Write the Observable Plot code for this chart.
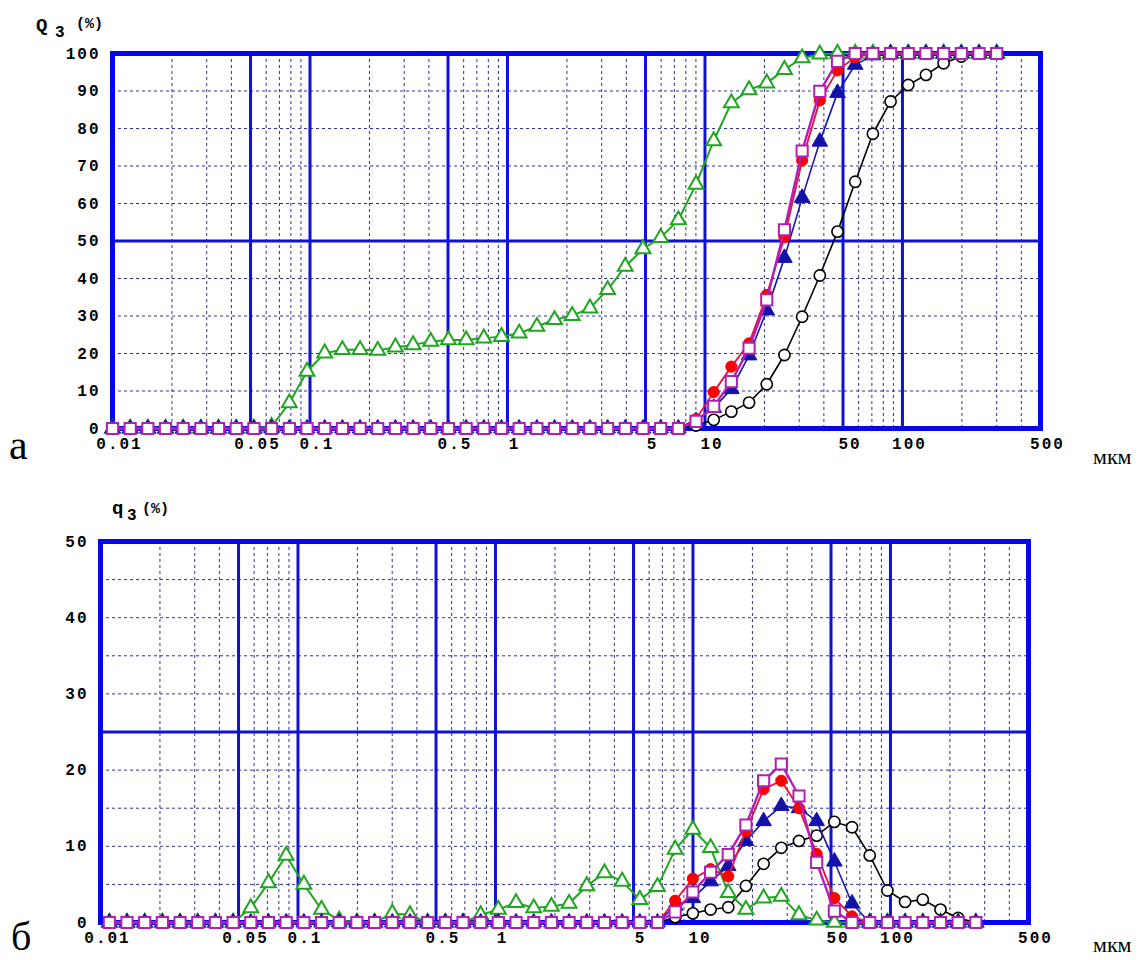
<!DOCTYPE html>
<html>
<head>
<meta charset="utf-8">
<script src="https://cdn.jsdelivr.net/npm/d3@7"></script>
<script src="https://cdn.jsdelivr.net/npm/@observablehq/plot@0.6"></script>
<style>
html, body { margin: 0; padding: 0; background: #fff; }
#wrap { position: relative; width: 1138px; height: 960px; overflow: hidden; background: #fff; }
#wrap > div.p { position: absolute; left: 0; }
#ann { position: absolute; left: 0; top: 0; pointer-events: none; }
</style>
</head>
<body>
<div id="wrap">
  <div class="p" id="pa" style="top:0"></div>
  <div class="p" id="pb" style="top:480px"></div>
  <svg id="ann" width="1138" height="960" xmlns="http://www.w3.org/2000/svg">
    <g font-family="Liberation Mono, DejaVu Sans Mono, monospace" font-weight="bold" fill="#000">
      <text x="36" y="31" font-size="19">Q</text>
      <text x="55" y="37" font-size="16">3</text>
      <text x="76" y="28" font-size="15">(%)</text>
      <text x="112" y="514" font-size="19">q</text>
      <text x="127" y="520" font-size="16">3</text>
      <text x="142" y="513" font-size="15">(%)</text>
    </g>
    <g font-family="Liberation Serif, Times New Roman, serif" fill="#000">
      <text x="9" y="459" font-size="42">а</text>
      <text x="1093" y="464" font-size="22">мкм</text>
      <text x="11" y="950" font-size="40">б</text>
      <text x="1093" y="952" font-size="22">мкм</text>
    </g>
  </svg>
</div>
<script>
// ---------- data ----------
// particle sizes, µm (cumulative panel а)
const sizesA = [0.01, 0.01229, 0.0151, 0.01855, 0.0228, 0.02802, 0.03443, 0.04231, 0.052, 0.0639,
  0.0786, 0.0966, 0.1187, 0.1459, 0.1793, 0.2203, 0.2708, 0.3328, 0.4089, 0.5025,
  0.6176, 0.7589, 0.9326, 1.146, 1.409, 1.731, 2.128, 2.615, 3.214, 3.949,
  4.854, 5.965, 7.33, 9.008, 11.07, 13.6, 16.72, 20.55, 25.26, 31.05,
  38.15, 46.89, 57.63, 70.83, 87.05, 107, 131.5, 161.6, 198.6, 244.1, 300];
// particle sizes, µm (differential panel б, class mid-points)
const sizesB = [0.01109, 0.01362, 0.01674, 0.02057, 0.02528, 0.03107, 0.03818, 0.04692, 0.05766, 0.07086,
  0.08711, 0.1071, 0.1316, 0.1617, 0.1988, 0.2443, 0.3002, 0.3689, 0.4534, 0.5572,
  0.6847, 0.8415, 1.034, 1.271, 1.562, 1.919, 2.359, 2.899, 3.563, 4.378,
  5.381, 6.613, 8.127, 9.989, 12.28, 15.09, 18.54, 22.79, 28.01, 34.42,
  42.3, 51.99, 63.9, 78.53, 96.51, 118.6, 145.8, 179.2, 220.2, 270.6];

// Q3 (%) – cumulative
const qaBlack = [0,0,0,0,0,0,0,0,0,0, 0,0,0,0,0,0,0,0,0,0, 0,0,0,0,0,0,0,0,0,0, 0,0,0,
  0.8, 2.3, 4.5, 6.9, 11.8, 19.6, 29.8, 40.8, 52.5, 65.8, 78.6, 87.2, 91.6, 94.3, 97.4, 99.2, 100, 100];
const qaGreen = [0,0,0,0,0,0,0,0,0,
  0.5, 6.8, 15.2, 20.1, 21, 21, 20.8, 21.7, 22.3, 23.2,
  23.6, 23.6, 24.1, 24.5, 25.4, 27.2, 29, 30.1, 32.1, 37,
  43.2, 47.9, 50.9, 55.6, 65.1, 76.7, 86.8, 90.3, 92.1, 95.7,
  98.8, 99.8, 100, 100, 100, 100, 100, 100, 100, 100, 100, 100];
const qaBlue = [0,0,0,0,0,0,0,0,0,0, 0,0,0,0,0,0,0,0,0,0, 0,0,0,0,0,0,0,0,0,0, 0,0,0,
  2, 5.5, 10.5, 19.5, 31.5, 45.5, 61.5, 76.5, 89.5, 97, 99.5, 100, 100, 100, 100, 100, 100, 100];
const qaRed = [0,0,0,0,0,0,0,0,0,0, 0,0,0,0,0,0,0,0,0,0, 0,0,0,0,0,0,0,0,0,0, 0,0,0,
  2.5, 9.7, 16.5, 22.7, 35.6, 51, 71.5, 87.5, 95.5, 99, 100, 100, 100, 100, 100, 100, 100, 100];
const qaMagenta = [0,0,0,0,0,0,0,0,0,0, 0,0,0,0,0,0,0,0,0,0, 0,0,0,0,0,0,0,0,0,0, 0,0,0,
  1.9, 5.9, 12.5, 21.4, 34.3, 53, 74, 89.9, 97.9, 100, 100, 100, 100, 100, 100, 100, 100, 100];

// q3 (%) – differential
const qbBlack = [0,0,0,0,0,0,0,0,0,0, 0,0,0,0,0,0,0,0,0,0, 0,0,0,0,0,0,0,0,0,0, 0,0,
  0.7, 1.2, 1.7, 2.0, 4.8, 7.7, 9.8, 10.7, 11.4, 13.2, 12.5, 8.8, 4.2, 2.7, 3.0, 1.7, 0.6, 0];
const qbGreen = [0,0,0,0,0,0,0,0,
  1.9, 5.2, 8.8, 5.0, 1.7, 0.3, 0, 0, 1.2, 1.0,
  0, 0, 0, 1.0, 1.7, 2.6, 1.9, 2.1, 2.5, 4.8,
  6.5, 5.4, 3.0, 4.7, 9.6, 12.2, 9.8, 3.9, 1.7, 3.2,
  3.4, 1.0, 0.3, 0, 0, 0, 0, 0, 0, 0, 0, 0];
const qbBlue = [0,0,0,0,0,0,0,0,0,0, 0,0,0,0,0,0,0,0,0,0, 0,0,0,0,0,0,0,0,0,0, 0,0,
  2.2, 3.2, 5.4, 7.4, 10.7, 13.3, 15.3, 15.0, 13.3, 8.0, 2.5, 0, 0, 0, 0, 0, 0, 0];
const qbRed = [0,0,0,0,0,0,0,0,0,0, 0,0,0,0,0,0,0,0,0,0, 0,0,0,0,0,0,0,0,0,0, 0,0,
  2.85, 5.75, 7, 6.05, 12, 17.5, 18.6, 15, 9, 3.2, 0.8, 0, 0, 0, 0, 0, 0, 0];
const qbMagenta = [0,0,0,0,0,0,0,0,0,0, 0,0,0,0,0,0,0,0,0,0, 0,0,0,0,0,0,0,0,0,0, 0,0,
  1.4, 4.0, 6.6, 8.9, 12.8, 18.6, 20.8, 16.6, 7.9, 1.5, 0, 0, 0, 0, 0, 0, 0, 0];

// axis ticks / grid
const xTickValues = [0.01, 0.05, 0.1, 0.5, 1, 5, 10, 50, 100, 500];
const xTickLabels = ["0.01", "0.05", "0.1", "0.5", "1", "5", "10", "50", "100", "500"];
const xMajor = [0.05, 0.1, 0.5, 1, 5, 10, 50, 100];
const xMinor = [0.02, 0.03, 0.04, 0.06, 0.07, 0.08, 0.09, 0.2, 0.3, 0.4, 0.6, 0.7, 0.8, 0.9,
  2, 3, 4, 6, 7, 8, 9, 20, 30, 40, 60, 70, 80, 90, 200, 300, 400];
const yTicksA = [0, 10, 20, 30, 40, 50, 60, 70, 80, 90, 100];
const yMajorA = [50];
const yMinorA = [10, 20, 30, 40, 60, 70, 80, 90];
const yTicksB = [0, 10, 20, 30, 40, 50];
const yMajorB = [25];
const yMinorB = [5, 10, 15, 20, 30, 35, 40, 45];

// ---------- drawing ----------
const BLUE = "#0505ee";
const MAJOR = "#1010d8";
const MINOR = "#30309c";
const monoFont = "Liberation Mono, DejaVu Sans Mono, monospace";

function rows(sizes, vals) { return sizes.map((s, i) => ({s, v: vals[i]})); }

function panel(o) {
  const S = o.series;
  const marks = [
    Plot.ruleX(xMinor, {stroke: MINOR, strokeWidth: 1, strokeDasharray: "3,3"}),
    Plot.ruleY(o.yMinor, {stroke: MINOR, strokeWidth: 1, strokeDasharray: "3,3"}),
    Plot.ruleX(xMajor, {stroke: MAJOR, strokeWidth: 3}),
    Plot.ruleY(o.yMajor, {stroke: MAJOR, strokeWidth: 3}),
    Plot.frame({stroke: BLUE, strokeWidth: 5}),
    // black open circles
    Plot.line(rows(o.sizes, S.black), {x: "s", y: "v", stroke: "#000", strokeWidth: 1.6}),
    Plot.dot(rows(o.sizes, S.black), {x: "s", y: "v", r: 5.6, symbol: "circle", stroke: "#000", fill: "#fff", strokeWidth: 1.6}),
    // green open triangles
    Plot.line(rows(o.sizes, S.green), {x: "s", y: "v", stroke: "#1fa51f", strokeWidth: 2}),
    Plot.dot(rows(o.sizes, S.green), {x: "s", y: "v", r: 5.5, symbol: "triangle", stroke: "#1fa51f", fill: "#fff", strokeWidth: 2}),
    // blue filled triangles
    Plot.line(rows(o.sizes, S.blue), {x: "s", y: "v", stroke: "#1515b0", strokeWidth: 1.6}),
    Plot.dot(rows(o.sizes, S.blue), {x: "s", y: "v", r: 5.8, symbol: "triangle", stroke: "#1212aa", fill: "#1212aa", strokeWidth: 1}),
    // red filled circles
    Plot.line(rows(o.sizes, S.red), {x: "s", y: "v", stroke: "#e8103c", strokeWidth: 1.8}),
    Plot.dot(rows(o.sizes, S.red), {x: "s", y: "v", r: 5.6, symbol: "circle", stroke: "#ff0000", fill: "#ff0000", strokeWidth: 1}),
    // magenta open squares
    Plot.line(rows(o.sizes, S.magenta), {x: "s", y: "v", stroke: "#b41cb4", strokeWidth: 2.4}),
    Plot.dot(rows(o.sizes, S.magenta), {x: "s", y: "v", r: 6.3, symbol: "square", stroke: "#b020b0", fill: "#fff", strokeWidth: 2}),
    // tick labels
    Plot.text(xTickValues, {x: d => d, text: (d, i) => xTickLabels[i], frameAnchor: "bottom", dy: 20, dx: 7,
      fontFamily: monoFont, fontSize: 16, fontWeight: "bold", fill: "#000"}),
    Plot.text(o.yTicks, {y: d => d, text: d => String(d), frameAnchor: "left", textAnchor: "end", dx: -12,
      fontFamily: monoFont, fontSize: 16, fontWeight: "bold", fill: "#000"})
  ];
  return Plot.plot({
    width: 1138,
    height: 480,
    marginLeft: o.marginLeft,
    marginRight: o.marginRight,
    marginTop: o.marginTop,
    marginBottom: o.marginBottom,
    x: {type: "log", domain: [0.01, 500], axis: null},
    y: {domain: [0, o.yMax], axis: null},
    style: {background: "#fff", overflow: "visible", letterSpacing: "2px"},
    marks
  });
}

document.getElementById("pa").appendChild(panel({
  sizes: sizesA,
  series: {black: qaBlack, green: qaGreen, blue: qaBlue, red: qaRed, magenta: qaMagenta},
  yMax: 100, yTicks: yTicksA, yMajor: yMajorA, yMinor: yMinorA,
  marginLeft: 112, marginRight: 98, marginTop: 53, marginBottom: 52
}));

document.getElementById("pb").appendChild(panel({
  sizes: sizesB,
  series: {black: qbBlack, green: qbGreen, blue: qbBlue, red: qbRed, magenta: qbMagenta},
  yMax: 50, yTicks: yTicksB, yMajor: yMajorB, yMinor: yMinorB,
  marginLeft: 100, marginRight: 110, marginTop: 61, marginBottom: 38
}));
</script>
</body>
</html>
